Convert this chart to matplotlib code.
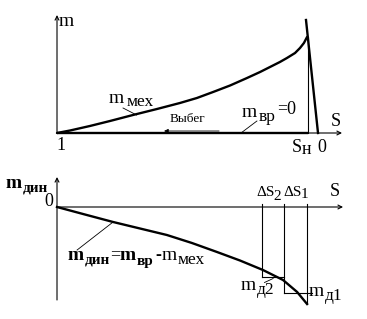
import matplotlib
matplotlib.use("Agg")
import matplotlib.pyplot as plt

W, H = 367, 319
FONT = "Liberation Serif"

# ---- data (diagram units: S = slip, m = torque) ----
S_mech = [1.000, 0.950, 0.874, 0.797, 0.709, 0.617, 0.529, 0.464, 0.402, 0.337,
          0.272, 0.222, 0.184, 0.146, 0.119, 0.088, 0.069, 0.054, 0.042]
m_mech = [0.000, 0.025, 0.070, 0.120, 0.180, 0.240, 0.300, 0.350, 0.410, 0.475,
          0.550, 0.610, 0.660, 0.710, 0.750, 0.800, 0.850, 0.900, 0.960]

S_steep = [0.046, 0.0]
m_steep = [1.13, 0.0]

S_n = 0.040

S_dyn = [1.000, 0.893, 0.785, 0.682, 0.579, 0.483, 0.387, 0.299, 0.211, 0.134,
         0.080, 0.042]
m_dyn = [0.000, -0.075, -0.150, -0.215, -0.280, -0.360, -0.450, -0.535, -0.630,
         -0.730, -0.850, -0.970]

S_steps = [0.215, 0.130, 0.042]
m_steps = [-0.70, -0.86]

fig = plt.figure(figsize=(W / 100, H / 100), dpi=100)
fig.patch.set_facecolor("white")

ax1 = fig.add_axes([0, 0, 1, 1])
ax1.set_xlim(1.2184, -0.1877)
ax1.set_ylim(-1.86, 1.33)
ax1.axis("off")

ax2 = fig.add_axes([0, 0, 1, 1])
ax2.set_xlim(1.2184, -0.1877)
ax2.set_ylim(-1.12, 2.07)
ax2.axis("off")
ax2.patch.set_alpha(0)

k = "black"
thin = 0.8
thick = 1.7
arrow_kw = dict(arrowstyle="->", color=k, lw=thin, mutation_scale=7, shrinkA=0, shrinkB=0)

# ---- top panel ----
ax1.annotate("", xy=(1.0, 1.18), xytext=(1.0, 0.0), arrowprops=arrow_kw)
ax1.annotate("", xy=(-0.092, 0.0), xytext=(1.0, 0.0), arrowprops=arrow_kw)
ax1.plot([1.0, S_n], [0, 0], color=k, lw=thick, solid_capstyle="butt")
ax1.plot(S_mech, m_mech, color=k, lw=thick, solid_joinstyle="round",
         solid_capstyle="round")
ax1.plot(S_steep, m_steep, color=k, lw=thick)
ax1.plot([S_n, S_n], [0, m_mech[-1]], color=k, lw=thin)
# leaders
ax1.plot([0.747, 0.695], [0.25, 0.18], color=k, lw=0.6)
ax1.plot([0.234, 0.295], [0.12, 0.0], color=k, lw=0.6)
# Выбег arrow
ax1.annotate("", xy=(0.590, 0.02), xytext=(0.379, 0.02),
             arrowprops=dict(arrowstyle="-|>", color=k, lw=0.6, mutation_scale=6,
                             shrinkA=0, shrinkB=0))


def t(x, y, s, size=13, weight="normal", ha="left", va="center"):
    fig.text(x / W, 1 - y / H, s, fontsize=size, fontfamily=FONT,
             fontweight=weight, ha=ha, va=va, color=k)


M, SUB, NUM, BSUB = 14, 12.5, 13, 11

# top texts
t(59, 21, "m", M)
t(109, 98, "m", M)
t(127, 102, "мех", SUB)
t(170, 119, "Выбег", 9.5)
t(242, 112, "m", M)
t(259, 117, "вр", SUB)
t(277, 110, "=0", NUM)
t(331, 122, "S", NUM)
t(56, 146, "1", NUM)
t(292, 147, "S", NUM)
t(302, 149, "н", NUM)
t(317, 147, "0", NUM)

# ---- bottom panel ----
ax2.annotate("", xy=(1.0, 0.30), xytext=(1.0, -0.93), arrowprops=arrow_kw)
ax2.annotate("", xy=(-0.096, 0.0), xytext=(1.0, 0.0), arrowprops=arrow_kw)
ax2.plot(S_dyn, m_dyn, color=k, lw=thick, solid_joinstyle="round")
# step rectangles
ax2.plot([S_steps[0], S_steps[0]], [0.03, m_steps[0]], color=k, lw=thin)
ax2.plot([S_steps[1], S_steps[1]], [0.03, m_steps[1]], color=k, lw=thin)
ax2.plot([S_steps[2], S_steps[2]], [0.03, m_dyn[-1]], color=k, lw=thin)
ax2.plot([S_steps[0], S_steps[1]], [m_steps[0], m_steps[0]], color=k, lw=thin)
ax2.plot([S_steps[1], 0.022], [m_steps[1], m_steps[1]], color=k, lw=thin)
# leaders
ax2.plot([0.923, 0.785], [-0.43, -0.15], color=k, lw=0.6)
ax2.plot([0.205, 0.172], [-0.755, -0.715], color=k, lw=0.6)

# bottom texts
t(6, 184, "m", M, "bold")
t(23, 188, "дин", BSUB, "bold")
t(44, 202, "0", NUM)
t(330, 192, "S", NUM)
t(256, 192, "ΔS", 11)
t(273, 197, "2", 11)
t(283, 192, "ΔS", 11)
t(301, 194, "1", 11)
t(68, 256, "m", M, "bold")
t(85, 260, "дин", BSUB, "bold")
t(110, 255, "=", NUM)
t(119, 256, "m", M, "bold")
t(137, 261, "вр", BSUB, "bold")
t(155, 255, "-", NUM, "bold")
t(162, 256, "m", M)
t(178, 260, "мех", SUB)
t(241, 286, "m", M)
t(257, 290, "д2", SUB)
t(309, 292, "m", M)
t(325, 296, "д1", SUB)

fig.savefig("out.png", dpi=100, facecolor="white")
